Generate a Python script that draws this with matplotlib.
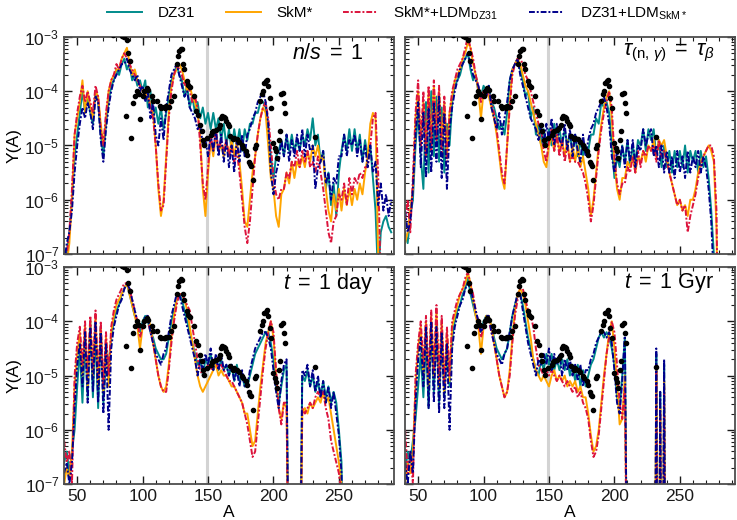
import numpy as np
import matplotlib
matplotlib.use('Agg')
import matplotlib.pyplot as plt
from matplotlib.ticker import MultipleLocator, LogLocator, NullFormatter

plt.rcParams['font.family'] = ['Liberation Sans', 'DejaVu Sans']
plt.rcParams['mathtext.fontset'] = 'custom'
plt.rcParams['mathtext.rm'] = 'Liberation Sans'
plt.rcParams['mathtext.it'] = 'Liberation Sans:italic'

# abundances given as -10*log10(Y) on an A grid with step 2 (99 = nothing left)
A = np.arange(40, 291, 2)

ns_dz31 = [80, 70, 66, 60, 52, 48, 44, 40, 44, 41,
           44, 46, 40, 42, 48, 52, 46, 42, 39, 38,
           36, 37, 35, 34, 36, 35, 38, 37, 39, 38,
           40, 38, 43, 40, 45, 43, 46, 43, 47, 44,
           41, 38, 37, 35, 37, 38, 41, 39, 43, 41,
           44, 42, 45, 43, 46, 44, 47, 44, 47, 45,
           49, 46, 50, 47, 51, 47, 50, 47, 51, 47,
           49, 46, 46, 44, 44, 42, 42, 43, 47, 52,
           56, 52, 51, 49, 52, 48, 51, 48, 51, 49,
           51, 48, 50, 47, 49, 45, 50, 48, 53, 51,
           58, 55, 61, 57, 63, 55, 51, 48, 51, 47,
           51, 47, 51, 48, 53, 49, 52, 50, 56, 62,
           75, 66, 64, 63, 65, 66]
ns_skm = [80, 72, 68, 60, 48, 45, 42, 38, 44, 40,
          43, 45, 40, 41, 46, 50, 45, 40, 38, 37,
          36, 36, 34, 33, 32, 35, 37, 36, 38, 39,
          40, 41, 40, 43, 44, 50, 58, 63, 60, 52,
          44, 39, 37, 36, 35, 36, 38, 40, 39, 41,
          42, 44, 48, 58, 63, 55, 49, 52, 48, 51,
          50, 52, 49, 52, 49, 52, 49, 53, 58, 64,
          65, 60, 55, 52, 48, 45, 43, 44, 50, 56,
          58, 63, 65, 59, 58, 55, 57, 53, 56, 53,
          54, 52, 54, 51, 53, 50, 52, 50, 53, 52,
          58, 62, 64, 59, 62, 58, 62, 58, 61, 58,
          61, 58, 60, 57, 59, 55, 52, 46, 44, 45,
          70, 95, 99, 99, 99, 99]
ns_skm_ldm = [78, 70, 66, 58, 48, 44, 41, 39, 42, 40,
              42, 44, 39, 41, 47, 50, 44, 40, 38, 37,
              35, 36, 34, 33, 34, 35, 36, 37, 38, 39,
              40, 41, 41, 43, 45, 50, 57, 62, 61, 53,
              45, 40, 37, 35, 36, 37, 39, 38, 40, 42,
              41, 43, 50, 57, 60, 54, 48, 51, 47, 51,
              49, 51, 49, 52, 50, 53, 51, 55, 60, 65,
              68, 64, 58, 52, 48, 45, 43, 42, 45, 50,
              56, 59, 60, 58, 58, 55, 56, 53, 54, 51,
              54, 51, 53, 51, 54, 53, 55, 52, 55, 58,
              62, 66, 68, 64, 63, 59, 60, 57, 61, 56,
              59, 56, 57, 55, 56, 54, 54, 50, 45, 44,
              55, 75, 95, 99, 99, 99]
ns_dz31_ldm = [72, 68, 66, 62, 55, 50, 46, 43, 45, 42,
               44, 47, 41, 42, 49, 53, 47, 43, 40, 38,
               37, 36, 35, 35, 34, 36, 37, 38, 37, 40,
               39, 42, 40, 45, 42, 48, 50, 45, 49, 43,
               40, 37, 36, 35, 37, 39, 41, 40, 43, 44,
               45, 47, 46, 50, 49, 52, 48, 51, 47, 52,
               48, 53, 49, 54, 50, 55, 49, 53, 48, 52,
               48, 47, 45, 44, 42, 41, 40, 42, 46, 55,
               59, 55, 53, 49, 52, 48, 53, 49, 52, 48,
               51, 47, 52, 48, 51, 50, 58, 54, 53, 51,
               57, 55, 60, 56, 57, 52, 52, 48, 52, 49,
               50, 48, 52, 49, 53, 50, 54, 50, 55, 53,
               61, 57, 62, 59, 63, 60]

tau_dz31 = [66, 68, 63, 60, 50, 44, 52, 58, 42, 55,
            40, 52, 41, 53, 43, 55, 46, 50, 42, 39,
            38, 37, 35, 34, 33, 36, 38, 37, 40, 41,
            39, 40, 39, 42, 43, 45, 47, 46, 48, 44,
            38, 36, 35, 34, 36, 38, 41, 40, 45, 43,
            48, 46, 50, 47, 50, 47, 50, 46, 49, 47,
            50, 47, 50, 48, 51, 48, 52, 49, 52, 50,
            51, 48, 48, 45, 46, 42, 43, 42, 44, 50,
            56, 52, 54, 50, 53, 49, 54, 50, 53, 49,
            50, 47, 51, 47, 49, 47, 52, 49, 54, 50,
            54, 51, 55, 51, 54, 51, 54, 50, 55, 51,
            53, 51, 55, 51, 54, 52, 56, 62, 70, 85,
            99, 99, 99, 99, 99, 99]
tau_skm = [68, 66, 62, 58, 45, 40, 50, 42, 52, 40,
           50, 39, 48, 40, 50, 42, 52, 44, 41, 38,
           37, 36, 34, 33, 31, 32, 35, 37, 40, 45,
           40, 40, 41, 43, 45, 48, 52, 56, 58, 50,
           42, 36, 35, 34, 35, 37, 39, 40, 42, 44,
           46, 48, 50, 53, 54, 50, 48, 51, 48, 51,
           49, 52, 49, 53, 50, 53, 50, 54, 52, 55,
           58, 63, 60, 55, 50, 46, 43, 41, 40, 45,
           53, 58, 60, 56, 56, 53, 54, 52, 55, 52,
           53, 51, 53, 50, 51, 49, 52, 49, 50, 49,
           52, 55, 57, 59, 61, 60, 62, 61, 63, 60,
           60, 58, 55, 53, 52, 51, 50, 51, 53, 65,
           99, 99, 99, 99, 99, 99]
tau_skm_ldm = [64, 60, 66, 56, 44, 38, 50, 40, 52, 39,
               51, 38, 49, 39, 52, 41, 53, 44, 40, 38,
               36, 35, 34, 32, 30, 32, 34, 37, 39, 42,
               40, 41, 40, 42, 44, 47, 51, 55, 57, 50,
               43, 37, 35, 34, 34, 35, 37, 38, 40, 42,
               44, 46, 47, 51, 53, 49, 47, 51, 48, 52,
               49, 53, 50, 53, 52, 53, 53, 54, 55, 57,
               60, 64, 61, 56, 51, 47, 44, 42, 40, 43,
               52, 57, 59, 57, 57, 54, 55, 52, 55, 51,
               54, 51, 52, 50, 51, 50, 53, 49, 52, 51,
               53, 55, 57, 59, 61, 60, 62, 61, 66, 63,
               61, 59, 56, 54, 52, 51, 50, 50, 52, 62,
               99, 99, 99, 99, 99, 99]
tau_dz31_ldm = [62, 66, 64, 58, 48, 42, 54, 44, 56, 43,
                55, 42, 53, 41, 56, 44, 58, 47, 43, 40,
                38, 36, 35, 34, 33, 35, 37, 38, 39, 41,
                40, 41, 39, 43, 45, 47, 44, 48, 45, 42,
                38, 36, 35, 34, 37, 39, 41, 43, 45, 46,
                47, 49, 46, 50, 46, 49, 45, 50, 46, 49,
                50, 46, 51, 47, 52, 48, 51, 53, 48, 52,
                49, 47, 46, 44, 43, 42, 41, 43, 46, 52,
                55, 51, 53, 50, 54, 49, 53, 49, 54, 50,
                51, 47, 50, 48, 47, 52, 50, 54, 50, 55,
                51, 55, 52, 56, 51, 55, 52, 56, 51, 55,
                52, 54, 51, 55, 52, 54, 58, 64, 75, 90,
                99, 99, 99, 99, 99, 99]

day_dz31 = [66, 64, 68, 64, 60, 52, 45, 55, 43, 54,
            40, 54, 42, 56, 41, 55, 47, 48, 43, 40,
            38, 37, 35, 34, 33, 35, 37, 39, 40, 42,
            40, 39, 40, 42, 43, 45, 46, 47, 47, 46,
            43, 40, 38, 36, 35, 36, 38, 40, 42, 44,
            46, 48, 47, 50, 47, 48, 46, 49, 47, 49,
            47, 49, 48, 50, 48, 51, 48, 51, 50, 52,
            52, 50, 48, 46, 45, 44, 43, 42, 42, 44,
            47, 52, 55, 52, 49, 48, 99, 99, 99, 99,
            99, 50, 51, 49, 52, 50, 53, 51, 54, 51,
            54, 52, 55, 53, 55, 60, 66, 99, 99, 99,
            99, 99, 99, 99, 99, 99, 99, 99, 99, 99,
            99, 99, 99, 99, 99, 99]
day_skm = [70, 67, 69, 64, 52, 46, 42, 50, 41, 52,
           40, 50, 39, 52, 41, 53, 43, 52, 42, 39,
           37, 36, 35, 34, 33, 35, 37, 39, 41, 45,
           41, 40, 39, 41, 44, 47, 50, 52, 53, 52,
           48, 43, 39, 36, 35, 35, 36, 38, 41, 44,
           47, 50, 52, 53, 52, 51, 50, 49, 48, 50,
           49, 50, 50, 51, 52, 52, 53, 54, 55, 57,
           57, 60, 63, 62, 57, 52, 48, 44, 42, 40,
           43, 50, 56, 58, 55, 56, 99, 99, 99, 99,
           99, 57, 56, 57, 55, 56, 55, 54, 55, 53,
           55, 54, 57, 60, 63, 66, 70, 99, 99, 99,
           99, 99, 99, 99, 99, 99, 99, 99, 99, 99,
           99, 99, 99, 99, 99, 99]
day_skm_ldm = [62, 66, 64, 70, 50, 44, 41, 48, 40, 50,
               39, 49, 38, 51, 40, 52, 42, 50, 41, 38,
               36, 35, 34, 33, 33, 34, 36, 38, 40, 43,
               41, 40, 40, 42, 44, 47, 50, 52, 53, 53,
               49, 44, 40, 37, 35, 35, 36, 37, 38, 41,
               44, 47, 49, 50, 49, 48, 49, 48, 47, 49,
               48, 49, 50, 51, 51, 52, 53, 54, 55, 57,
               59, 62, 65, 64, 59, 54, 49, 45, 42, 40,
               42, 49, 56, 59, 55, 55, 99, 99, 99, 99,
               99, 56, 57, 56, 55, 56, 54, 53, 54, 53,
               56, 58, 62, 64, 66, 68, 72, 99, 99, 99,
               99, 99, 99, 99, 99, 99, 99, 99, 99, 99,
               99, 99, 99, 99, 99, 99]
day_dz31_ldm = [68, 66, 70, 66, 56, 48, 44, 52, 42, 55,
                41, 53, 40, 55, 42, 57, 44, 60, 45, 41,
                39, 37, 36, 34, 33, 34, 36, 38, 40, 41,
                41, 39, 39, 42, 44, 46, 47, 48, 46, 45,
                42, 39, 37, 35, 35, 37, 39, 41, 43, 45,
                47, 50, 47, 49, 46, 48, 45, 49, 46, 49,
                46, 49, 48, 50, 48, 51, 49, 52, 49, 52,
                52, 49, 47, 45, 44, 43, 42, 42, 43, 45,
                49, 53, 56, 51, 48, 47, 99, 99, 99, 99,
                99, 49, 50, 48, 52, 49, 53, 50, 54, 51,
                55, 52, 56, 53, 57, 61, 68, 99, 99, 99,
                99, 99, 99, 99, 99, 99, 99, 99, 99, 99,
                99, 99, 99, 99, 99, 99]

# t = 1 Gyr: A = 40..210 then the surviving actinides
A_gyr = list(range(40, 211, 2)) + [231, 232, 233, 234, 235, 236, 237, 238, 239]
gyr_dz31 = [68, 64, 66, 62, 58, 52, 46, 54, 43, 56,
            41, 53, 40, 55, 42, 54, 45, 52, 43, 40,
            38, 37, 35, 34, 32, 35, 37, 39, 40, 42,
            40, 39, 39, 41, 43, 45, 46, 47, 46, 45,
            42, 39, 37, 35, 35, 37, 40, 43, 45, 47,
            49, 50, 47, 49, 46, 48, 46, 49, 47, 49,
            47, 49, 47, 50, 48, 51, 48, 52, 49, 52,
            50, 48, 47, 45, 43, 42, 43, 42, 43, 45,
            48, 54, 56, 50, 43, 99,
            99, 46, 99, 99, 53, 99, 99, 48, 99]
gyr_skm = [70, 66, 68, 64, 52, 45, 41, 50, 40, 52,
           39, 50, 38, 52, 40, 53, 42, 51, 41, 39,
           37, 35, 34, 33, 31, 33, 36, 39, 41, 46,
           41, 39, 39, 41, 44, 47, 50, 52, 54, 53,
           49, 43, 38, 35, 34, 35, 37, 40, 43, 47,
           49, 50, 51, 50, 51, 52, 50, 49, 51, 50,
           51, 50, 52, 51, 52, 51, 53, 52, 54, 54,
           57, 61, 64, 63, 60, 55, 50, 46, 42, 40,
           45, 52, 59, 58, 50, 99,
           99, 48, 99, 99, 56, 99, 99, 51, 99]
gyr_skm_ldm = [60, 68, 64, 70, 50, 44, 40, 48, 39, 50,
               38, 49, 37, 51, 39, 52, 41, 50, 40, 38,
               36, 35, 34, 32, 31, 33, 35, 38, 40, 43,
               41, 40, 40, 42, 44, 47, 50, 52, 54, 53,
               50, 44, 39, 36, 34, 34, 36, 38, 39, 41,
               45, 48, 49, 50, 49, 50, 49, 50, 51, 50,
               51, 52, 51, 52, 53, 52, 54, 53, 55, 56,
               58, 62, 65, 64, 61, 56, 51, 46, 43, 40,
               42, 48, 55, 58, 52, 99,
               99, 49, 99, 99, 57, 99, 99, 52, 99]
gyr_dz31_ldm = [66, 70, 64, 68, 55, 47, 43, 52, 41, 56,
                40, 55, 41, 57, 42, 56, 44, 60, 45, 41,
                39, 37, 36, 34, 33, 34, 36, 38, 40, 42,
                41, 39, 39, 42, 44, 46, 47, 48, 46, 45,
                42, 39, 37, 35, 35, 38, 41, 44, 46, 48,
                50, 47, 48, 46, 48, 45, 49, 46, 48, 46,
                50, 47, 49, 47, 50, 48, 51, 48, 52, 49,
                49, 47, 46, 44, 43, 42, 42, 43, 42, 44,
                49, 55, 57, 51, 42, 99,
                99, 45, 99, 99, 53, 99, 99, 47, 99]

# solar r-process abundances (log10 Y)
solar_A = [77, 84, 86, 87, 88, 89, 90, 91, 93, 94, 96, 97, 98, 100, 101, 103, 104,
           107, 108, 111, 113, 114, 116, 117, 118, 120, 122, 124, 126, 127, 128, 129,
           130, 131, 132, 134, 135, 136, 139, 141, 142, 144, 145, 146, 147, 149, 152,
           153, 154, 156, 158, 159, 160, 161, 162, 163, 164, 165, 166, 167, 169, 170,
           172, 174, 176, 177, 179, 180, 181, 182, 183, 184, 186, 187, 190, 191, 192,
           193, 194, 195, 196, 197, 198, 200, 201, 202, 203, 204, 205, 206, 207, 208,
           209, 232]
solar_logY = [-2.96, -2.98, -3.0, -4.46, -3.05, -3.3, -3.45, -4.86, -4.22, -4.09, -4.0,
              -4.06, -4.52, -4.09, -4.0, -3.94, -3.97, -4.09, -4.18, -4.18, -4.28, -4.31,
              -4.3, -4.31, -4.28, -4.29, -4.18, -4.09, -3.5, -3.35, -3.26, -3.22, -3.23,
              -3.5, -3.6, -3.81, -3.88, -3.92, -4.09, -4.37, -4.43, -4.62, -4.74, -4.9,
              -4.99, -4.86, -4.8, -4.75, -4.74, -4.71, -4.68, -4.62, -4.5, -4.46, -4.48,
              -4.5, -4.55, -4.6, -4.65, -4.83, -4.89, -4.86, -4.89, -4.93, -5.0, -5.05,
              -5.1, -5.17, -5.3, -5.35, -5.38, -5.64, -5.05, -5.0, -4.18, -4.06, -4.0,
              -3.85, -3.82, -3.79, -3.9, -4.12, -4.31, -4.96, -5.05, -5.11, -5.23, -4.9,
              -4.74, -4.06, -4.03, -4.22, -4.4, -4.85]

labels = ['DZ31', 'SkM*', r'SkM*+LDM$_{\mathrm{DZ31}}$', r'DZ31+LDM$_{\mathrm{SkM}*}$']
colors = ['#008B8B', '#FFA500', '#DC143C', '#00008B']
dashes = [None, None, (3, 1, 1, 1), (3, 1, 1, 1)]

panels = [
    (A, [ns_dz31, ns_skm, ns_skm_ldm, ns_dz31_ldm], r'$n/s\;=\;1$'),
    (A, [tau_dz31, tau_skm, tau_skm_ldm, tau_dz31_ldm],
     r'$\tau_{(\mathrm{n},\,\gamma)}\;=\;\tau_{\beta}$'),
    (A, [day_dz31, day_skm, day_skm_ldm, day_dz31_ldm], r'$t\;=\;1$ day'),
    (A_gyr, [gyr_dz31, gyr_skm, gyr_skm_ldm, gyr_dz31_ldm], r'$t\;=\;1$ Gyr'),
]

fig, axes = plt.subplots(2, 2, figsize=(7.37, 5.2), dpi=100, sharex=True, sharey=True)
fig.subplots_adjust(left=0.087, right=0.997, top=0.929, bottom=0.069, wspace=0.034, hspace=0.06)

for ax, (xa, series, title) in zip(axes.flat, panels):
    ax.axvline(149, color='lightgray', lw=2.2, zorder=1)
    for vals, c, d, lab in zip(series, colors, dashes, labels):
        assert len(vals) == len(xa)
        y = 10 ** (-np.array(vals) / 10.0)
        line, = ax.plot(xa, y, color=c, lw=1.4, label=lab, zorder=2)
        if d is not None:
            line.set_dashes(d)
    ax.plot(solar_A, 10 ** np.array(solar_logY), 'o', color='black', ms=3, zorder=5)
    ax.text(0.80, 0.925, title, transform=ax.transAxes, ha='center', va='center', fontsize=15.5)
    ax.set_yscale('log')
    ax.set_ylim(1e-7, 1e-3)
    ax.set_xlim(40, 292)
    ax.xaxis.set_major_locator(MultipleLocator(50))
    ax.xaxis.set_minor_locator(MultipleLocator(10))
    ax.yaxis.set_major_locator(LogLocator(base=10, numticks=10))
    ax.yaxis.set_minor_locator(LogLocator(base=10, subs=np.arange(2, 10), numticks=10))
    ax.yaxis.set_minor_formatter(NullFormatter())
    ax.tick_params(which='both', direction='in', top=True, right=True, labelsize=12.5, colors='0.1')
    ax.tick_params(which='major', length=6, width=1)
    ax.tick_params(which='minor', length=3, width=0.8)
    for s in ax.spines.values():
        s.set_color('0.3')
        s.set_linewidth(1.3)

for ax in axes[1]:
    ax.set_xlabel('A', fontsize=12.5, labelpad=1)
for ax in axes[:, 0]:
    ax.set_ylabel('Y(A)', fontsize=12.5, labelpad=2)

handles, labs = axes[0, 0].get_legend_handles_labels()
fig.legend(handles, labs, loc='center', bbox_to_anchor=(0.539, 0.975), ncol=4, frameon=False,
           fontsize=11, handlelength=2.3, handletextpad=1.0, columnspacing=2.0)

fig.savefig('out.png', dpi=100)
